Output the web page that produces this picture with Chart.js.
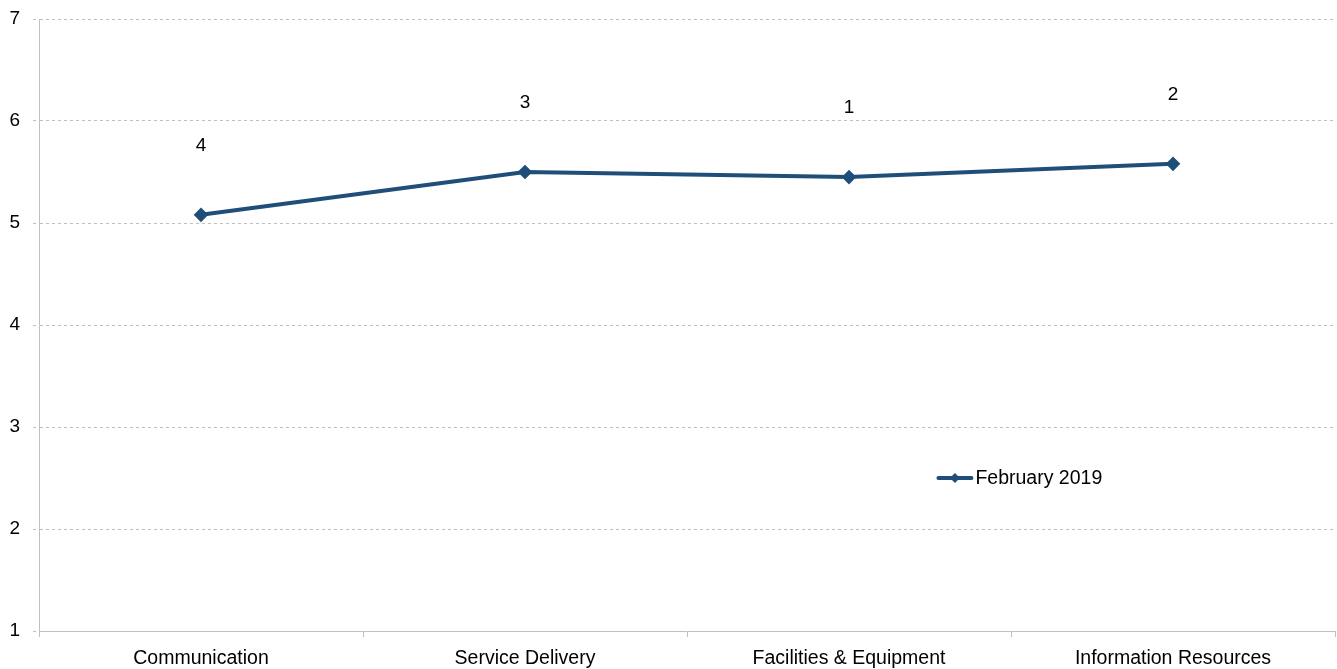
<!DOCTYPE html>
<html>
<head>
<meta charset="utf-8">
<script src="https://cdn.jsdelivr.net/npm/chart.js@4"></script>
<style>
  html, body { margin: 0; padding: 0; background: #fff; overflow: hidden; }
  canvas { display: block; }
</style>
</head>
<body>
<canvas id="chart" width="1337" height="669"></canvas>
<script>
// ---------- DATA ----------
const categories = ["Communication", "Service Delivery", "Facilities & Equipment", "Information Resources"];
const feb2019 = [5.08, 5.5, 5.45, 5.58];
const rankLabels = ["4", "3", "1", "2"];
const yTicks = [1, 2, 3, 4, 5, 6, 7];

const lineColor = "#1f4e79";
const gridColor = "#bfbfbf";
const fontFamily = "'Liberation Sans', Arial, sans-serif";

// rank numbers above each point
const rankPlugin = {
  id: "rankLabels",
  afterDatasetsDraw(chart) {
    const ctx = chart.ctx;
    const meta = chart.getDatasetMeta(0);
    ctx.save();
    ctx.fillStyle = "#000";
    ctx.font = "19px " + fontFamily;
    ctx.textAlign = "center";
    ctx.textBaseline = "middle";
    meta.data.forEach((pt, i) => {
      ctx.fillText(rankLabels[i], pt.x, pt.y - 69);
    });
    ctx.restore();
  }
};

// legend drawn inside the plot area
const legendPlugin = {
  id: "innerLegend",
  afterDraw(chart) {
    const ctx = chart.ctx;
    const a = chart.chartArea;
    const x = a.left + (a.right - a.left) * 0.694;
    const y = chart.scales.y.getPixelForValue(2.5);
    ctx.save();
    ctx.strokeStyle = lineColor;
    ctx.lineWidth = 4;
    ctx.lineCap = "round";
    ctx.beginPath();
    ctx.moveTo(x, y);
    ctx.lineTo(x + 33, y);
    ctx.stroke();
    ctx.fillStyle = lineColor;
    ctx.beginPath();
    ctx.moveTo(x + 16.5, y - 5);
    ctx.lineTo(x + 21.5, y);
    ctx.lineTo(x + 16.5, y + 5);
    ctx.lineTo(x + 11.5, y);
    ctx.closePath();
    ctx.fill();
    ctx.fillStyle = "#000";
    ctx.font = "19.5px " + fontFamily;
    ctx.textBaseline = "middle";
    ctx.fillText("February 2019", x + 37, y + 1);
    ctx.restore();
  }
};

new Chart(document.getElementById("chart"), {
  type: "line",
  data: {
    labels: categories,
    datasets: [{
      label: "February 2019",
      data: feb2019,
      borderColor: lineColor,
      backgroundColor: lineColor,
      borderWidth: 4,
      pointStyle: "rectRot",
      pointRadius: 4.5,
      pointHoverRadius: 4.5,
      tension: 0,
      fill: false
    }]
  },
  plugins: [rankPlugin, legendPlugin],
  options: {
    responsive: false,
    animation: false,
    layout: { autoPadding: false, padding: { top: 19, right: 2, left: 0, bottom: 0 } },
    plugins: { legend: { display: false }, tooltip: { enabled: false } },
    scales: {
      x: {
        offset: true,
        grid: {
          offset: true,
          drawOnChartArea: false,
          drawTicks: true,
          tickLength: 6,
          color: gridColor
        },
        border: { display: true, color: gridColor, width: 1 },
        ticks: {
          color: "#000",
          padding: 10,
          maxRotation: 0,
          font: { family: fontFamily, size: 19.5 }
        },
        afterFit(scale) {
          scale.height = 38;
          scale.paddingLeft = 0;
          scale.paddingRight = 0;
        }
      },
      y: {
        min: 1,
        max: 7,
        afterBuildTicks(scale) { scale.ticks = yTicks.map(v => ({ value: v })); },
        grid: {
          color: gridColor,
          tickLength: 6,
          tickBorderDash: [3, 3]
        },
        border: { display: true, color: gridColor, width: 1, dash: [3, 3] },
        ticks: {
          color: "#000",
          padding: 13,
          font: { family: fontFamily, size: 19 }
        },
        afterFit(scale) {
          scale.width = 39;
          scale.paddingTop = 0;
          scale.paddingBottom = 0;
        }
      }
    }
  }
});
</script>
</body>
</html>
